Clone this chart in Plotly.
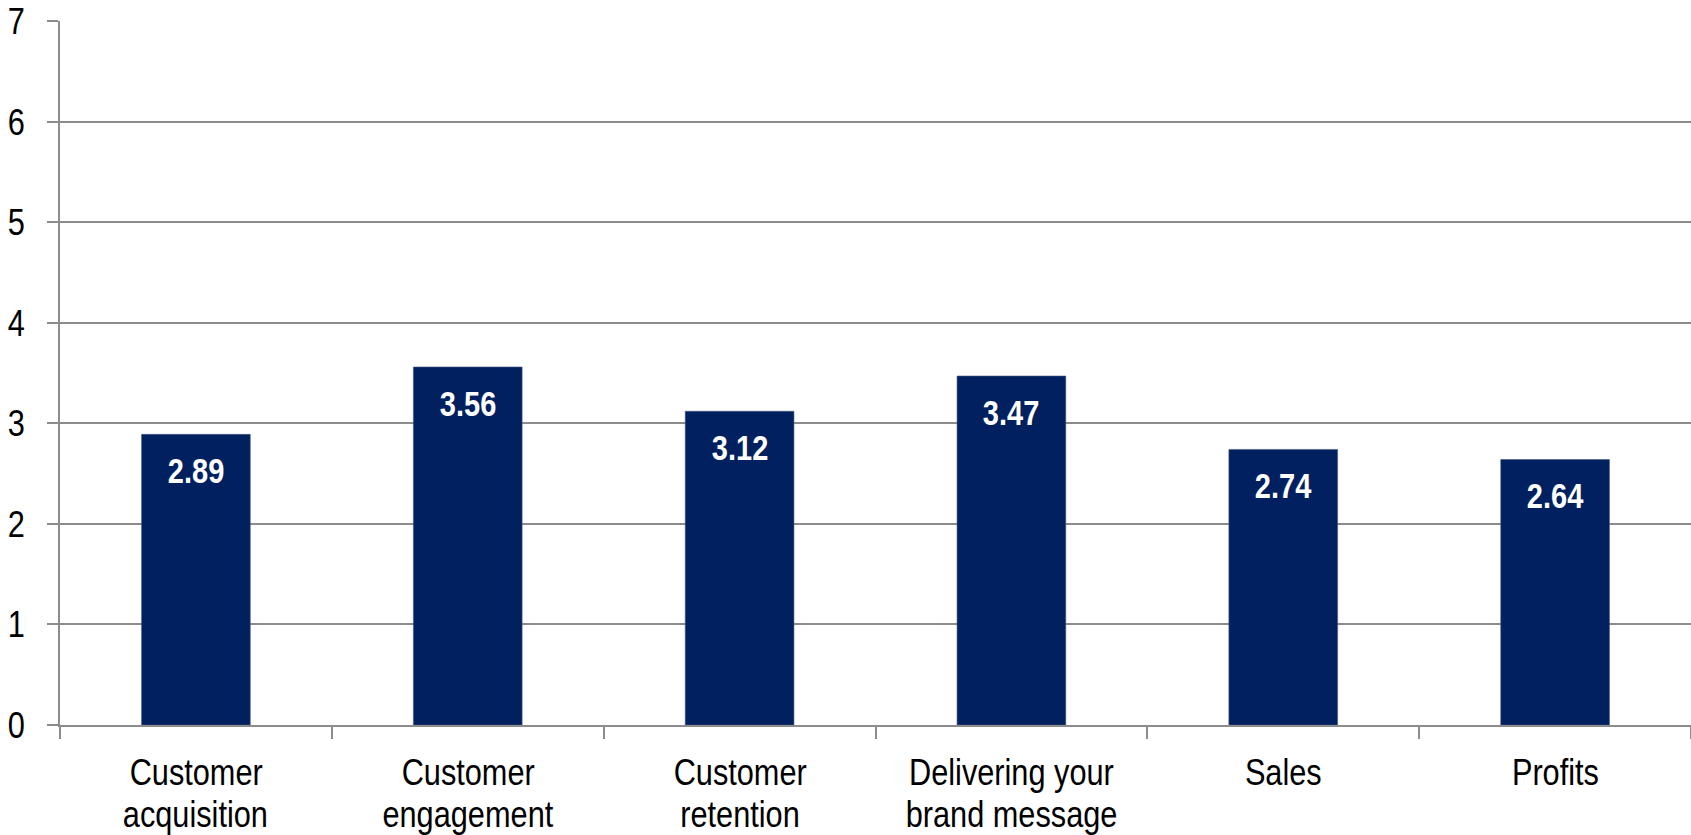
import plotly.graph_objects as go

categories = [
    "Customer\nacquisition",
    "Customer\nengagement",
    "Customer\nretention",
    "Delivering your\nbrand message",
    "Sales",
    "Profits",
]
scores = [2.89, 3.56, 3.12, 3.47, 2.74, 2.64]
y_ticks = [0, 1, 2, 3, 4, 5, 6, 7]

NAVY = "#002060"
GRID = "#8c8c8c"
FONT = "Liberation Sans, Arial, sans-serif"

keys = [c.replace("\n", " ") for c in categories]

fig = go.Figure(
    go.Bar(
        x=keys,
        y=scores,
        marker=dict(color=NAVY, line=dict(color="#4a5a80", width=0.6)),
        width=0.4,
        hoverinfo="skip",
    )
)

annotations = []
# value labels inside the top of each bar
for k, v in zip(keys, scores):
    annotations.append(
        dict(
            x=k, y=v, xref="x", yref="y",
            text=f"{v:.2f}", showarrow=False,
            yanchor="top", yshift=-15,
            font=dict(family=FONT, size=35, color="white", weight="bold"),
        )
    )
# two-line category labels under the axis
for k, c in zip(keys, categories):
    for i, line in enumerate(c.split("\n")):
        annotations.append(
            dict(
                x=k, y=0, xref="x", yref="paper",
                text=line, showarrow=False,
                yanchor="top", yshift=-25 - 42 * i,
                font=dict(family=FONT, size=37, color="black"),
            )
        )

fig.update_layout(
    width=1691,
    height=835,
    margin=dict(l=60, r=0, t=21, b=110),
    plot_bgcolor="white",
    paper_bgcolor="white",
    showlegend=False,
    bargap=0.6,
    annotations=annotations,
)
fig.update_xaxes(
    type="category",
    showticklabels=False,
    tickson="boundaries",
    ticks="outside",
    ticklen=12,
    tickcolor=GRID,
    tickwidth=1.5,
    showline=True,
    linecolor=GRID,
    linewidth=1.5,
    showgrid=False,
)
fig.update_yaxes(
    range=[0, 7],
    tickvals=y_ticks,
    ticks="outside",
    ticklen=11,
    tickcolor=GRID,
    tickwidth=1.5,
    ticklabelstandoff=15,
    tickfont=dict(family=FONT, size=37, color="black"),
    showgrid=True,
    gridcolor=GRID,
    gridwidth=1.5,
    showline=True,
    linecolor=GRID,
    linewidth=1.5,
    zeroline=False,
)

# narrow the glyphs horizontally for a condensed look
squeeze_js = """
(function(){
  function squeeze(){
    var gd = document.getElementById('{plot_id}');
    if (!gd) return;
    gd.querySelectorAll('text').forEach(function(t){
      if (t.getAttribute('data-sq')) return;
      var L = t.getComputedTextLength();
      if (L > 0) {
        t.setAttribute('textLength', (L * 0.83).toFixed(1));
        t.setAttribute('lengthAdjust', 'spacingAndGlyphs');
        t.setAttribute('data-sq', '1');
      }
    });
  }
  squeeze();
  setTimeout(squeeze, 50);
  var gd = document.getElementById('{plot_id}');
  if (gd && gd.on) gd.on('plotly_afterplot', squeeze);
})();
"""

fig.write_html("out.html", post_script=squeeze_js)
